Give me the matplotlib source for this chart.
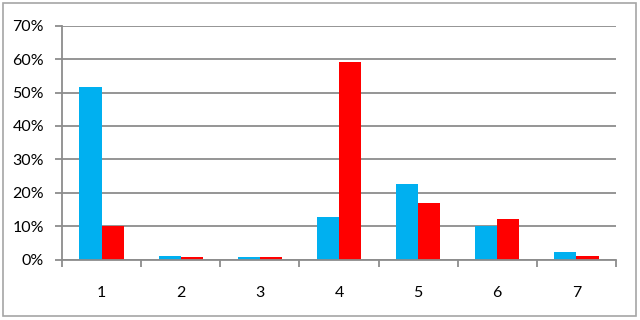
import numpy as np
import matplotlib.pyplot as plt
from matplotlib.patches import Rectangle
from matplotlib.ticker import FuncFormatter

# wartosci (w %)
kategorie = ["1", "2", "3", "4", "5", "6", "7"]
seria_niebieska = [51.7, 1.2, 0.7, 12.7, 22.6, 10.1, 2.3]
seria_czerwona = [10.1, 0.7, 0.7, 59.2, 16.9, 12.2, 1.2]

plt.rcParams['font.family'] = ['Lato', 'DejaVu Sans']

fig = plt.figure(figsize=(6.4, 3.2), dpi=100)
ax = fig.add_axes([0.0969, 0.1884, 0.8656, 0.7313])

# ramka wokol calego wykresu
fig.patches.append(Rectangle((3 / 640, 4 / 320), 633 / 640, 313 / 320,
                             transform=fig.transFigure, fill=False,
                             edgecolor='#a6a6a6', linewidth=1.2))

x = np.arange(len(kategorie))
szer = 0.28
ax.bar(x - szer / 2, seria_niebieska, szer, color='#00b0f0', zorder=3)
ax.bar(x + szer / 2, seria_czerwona, szer, color='#ff0000', zorder=3)

ax.set_xlim(-0.5, len(kategorie) - 0.5)
ax.set_ylim(0, 70)
ax.set_yticks(range(0, 71, 10))
ax.yaxis.set_major_formatter(FuncFormatter(lambda v, p: f"{int(v)}%"))
ax.yaxis.grid(True, color='#8c8c8c', linewidth=1.3, zorder=0)

ax.set_xticks(x)
ax.set_xticklabels(kategorie)
ax.set_xticks(np.arange(-0.5, len(kategorie)), minor=True)
ax.tick_params(axis='x', which='major', length=0, pad=19, labelsize=11.5)
ax.tick_params(axis='x', which='minor', length=5, width=1.3, color='#8c8c8c')
ax.tick_params(axis='y', length=5, width=1.3, color='#8c8c8c', pad=8, labelsize=11.5)

for s in ['top', 'right']:
    ax.spines[s].set_visible(False)
ax.spines['left'].set_color('#8c8c8c')
ax.spines['left'].set_linewidth(1.3)
ax.spines['bottom'].set_color('#8c8c8c')
ax.spines['bottom'].set_linewidth(1.3)
ax.spines['bottom'].set_zorder(4)

fig.savefig('out.png', dpi=100)
